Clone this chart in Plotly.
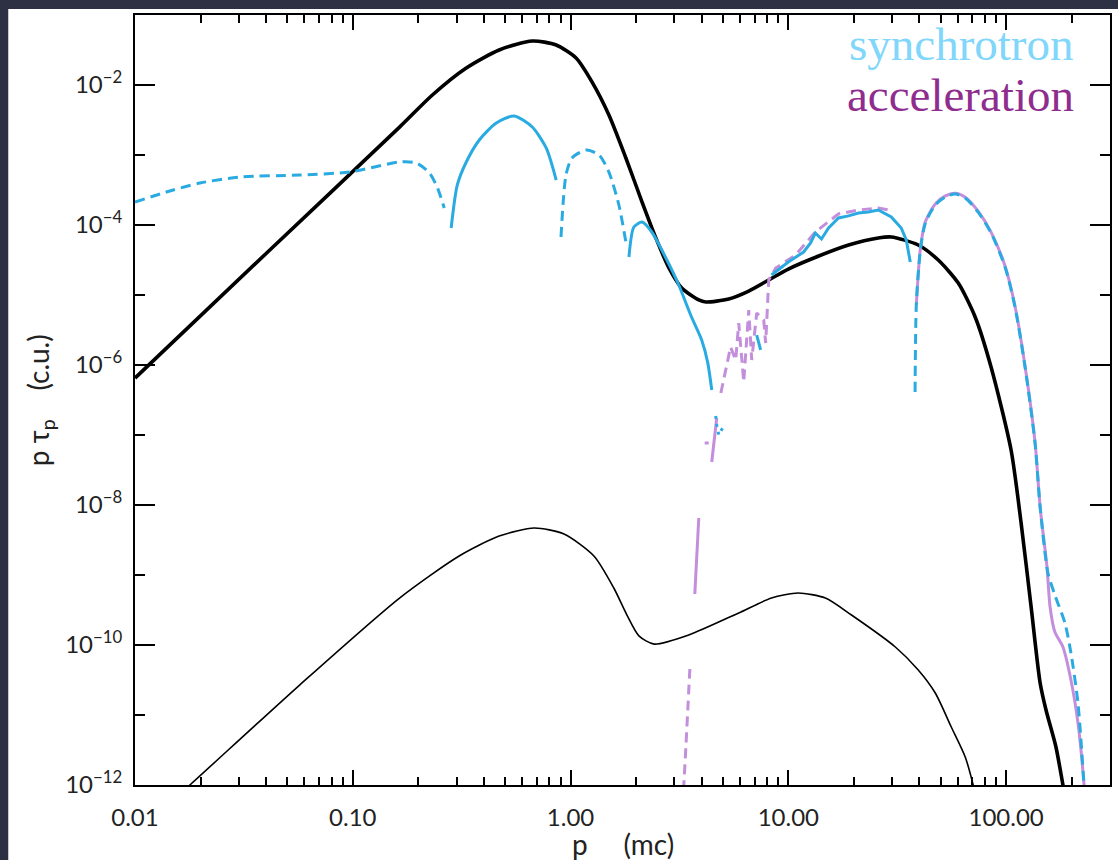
import plotly.graph_objects as go

# ---------------- data ----------------
# thick black curve
tot_p = [0.01, 0.0416, 0.164, 0.232, 0.332, 0.47, 0.667, 0.859, 1.06, 1.256, 1.5, 1.795,
         2.13, 2.466, 2.83, 3.24, 3.88, 4.18, 5.32, 6.58, 8.13, 10.0, 13.8, 18.9, 25.9, 29.7,
         39.5, 48.8, 60.3, 72.1, 85.3, 105.4, 117.2, 130.3, 143.3, 152.5, 169.4, 182.4, 190.0]
tot_f = [6.5e-7, 4.4e-5, 2.5e-3, 7.2e-3, 0.0175, 0.0316, 0.0425, 0.0373, 0.0243, 0.011,
         3.73e-3, 9.06e-4, 2.13e-4, 6.5e-5, 2.43e-5, 1.26e-5, 8.5e-6, 7.94e-6, 8.77e-6,
         1.14e-5, 1.64e-5, 2.35e-5, 3.61e-5, 5.18e-5, 6.52e-5, 6.74e-5, 5.18e-5, 3.16e-5,
         1.48e-5, 4.85e-6, 9.36e-7, 6.1e-8, 5.53e-9, 3.49e-10, 2.87e-11, 1.18e-11, 3.49e-12,
         1.0e-12, 5.0e-13]

# thin black curve
thin_p = [0.015, 0.01786, 0.057, 0.164, 0.308, 0.47, 0.681, 0.933, 1.28, 1.58, 1.815, 2.06,
          2.42, 3.49, 5.92, 8.37, 11.1, 14.8, 19.5, 31.0, 39.5, 47.3, 56.0, 64.9, 70.6, 74.0]
thin_f = [6.2e-13, 1.0e-12, 2.68e-11, 4.69e-10, 1.87e-9, 3.6e-9, 4.69e-9, 3.85e-9, 1.87e-9,
          6.52e-10, 2.68e-10, 1.35e-10, 1.03e-10, 1.39e-10, 2.87e-10, 4.69e-10, 5.53e-10,
          4.69e-10, 2.68e-10, 9.36e-11, 4.4e-11, 2.06e-11, 6.74e-12, 2.51e-12, 1.0e-12, 5.0e-13]

# synchrotron (blue) pieces
syn_d1_p = [0.01, 0.01446, 0.0199, 0.0303, 0.057, 0.0966, 0.164, 0.196, 0.225, 0.245, 0.263]
syn_d1_f = [2.13e-4, 3.06e-4, 3.98e-4, 4.85e-4, 5.18e-4, 5.71e-4, 7.94e-4, 7.69e-4, 5.53e-4,
            3.38e-4, 1.75e-4]
syn_s1_p = [0.283, 0.302, 0.332, 0.381, 0.456, 0.551, 0.667, 0.773, 0.859]
syn_s1_f = [9.06e-5, 3.73e-4, 7.94e-4, 1.64e-3, 2.87e-3, 3.61e-3, 2.51e-3, 1.26e-3, 4.39e-4]
syn_d2_p = [0.904, 0.953, 1.016, 1.178, 1.352, 1.5, 1.667, 1.795]
syn_d2_f = [6.74e-5, 5.18e-4, 9.06e-4, 1.18e-3, 1.0e-3, 5.71e-4, 1.93e-4, 5.71e-5]
syn_s2_p = [1.854, 1.954, 2.13, 2.36, 2.74, 3.14, 3.56, 4.0, 4.26, 4.45]
syn_s2_f = [3.49e-5, 9.36e-5, 1.1e-4, 7.94e-5, 3.38e-5, 1.39e-5, 5.18e-6, 2.28e-6, 1.1e-6, 4.4e-7]
syn_b_p = [4.64, 4.7, 4.8, 5.1]
syn_b_f = [1.87e-7, 1.3e-7, 1.0e-7, 1.44e-7]
syn_s3_p = [7.16, 7.46]
syn_s3_f = [2.68e-6, 1.64e-6]
syn_s4_p = [8.37, 10.0, 11.75, 12.65, 13.3, 14.2, 15.3, 17.0, 18.9, 21.0, 23.3, 25.9, 29.7,
            33.0, 34.8, 36.3]
syn_s4_f = [1.93e-5, 2.96e-5, 4.11e-5, 5.53e-5, 7.69e-5, 6.31e-5, 9.06e-5, 1.26e-4, 1.35e-4,
            1.48e-4, 1.53e-4, 1.64e-4, 1.3e-4, 9.06e-5, 6.1e-5, 2.96e-5]
syn_d3_p = [38.2, 38.7, 40.4, 42.6, 47.3, 52.6, 58.4, 64.9, 74.4, 85.3, 98.9, 109.9, 122.2,
            135.8, 143.3, 155.6, 167.5, 186.3, 198.5, 213.8, 227.6, 231.0]
syn_d3_f = [4.11e-7, 7.2e-6, 4.4e-5, 1.07e-4, 1.93e-4, 2.51e-4, 2.77e-4, 2.43e-4, 1.53e-4,
            7.69e-5, 2.51e-5, 6.74e-6, 9.36e-7, 7.69e-8, 9.36e-9, 1.07e-9, 5.18e-10, 2.06e-10,
            7.69e-11, 1.48e-11, 1.07e-12, 5.0e-13]

# acceleration (lilac) pieces
acc_d1_p = [3.25, 3.31, 3.53]
acc_d1_f = [5.0e-13, 1.0e-12, 4.54e-11]
acc_s1_p = [3.72, 3.88]
acc_s1_f = [5.35e-10, 6.52e-9]
acc_d2_p = [4.13, 4.31]
acc_d2_f = [7.69e-8, 7.69e-8]
acc_s2_p = [4.45, 4.69]
acc_s2_f = [4.11e-8, 1.75e-7]
acc_d3_p = [4.9, 5.21, 5.43, 5.73, 5.92, 6.24, 6.58, 6.79, 7.16, 7.71, 7.87, 8.13, 8.75,
            10.8, 13.3, 17.0, 21.0, 25.9, 28.8]
acc_d3_f = [3.98e-7, 9.36e-7, 1.81e-6, 1.18e-6, 3.98e-6, 5.71e-7, 6.1e-6, 1.18e-6, 5.53e-6,
            4.39e-6, 2.06e-6, 1.64e-5, 2.43e-5, 3.73e-5, 7.94e-5, 1.44e-4, 1.64e-4, 1.75e-4,
            1.64e-4]
acc_s3_p = [38.7, 40.4, 42.6, 47.3, 52.6, 58.4, 64.9, 74.4, 85.3, 98.9, 109.9, 122.2, 135.8,
            143.3, 154.1, 159.2, 167.5, 182.4, 198.5, 213.8, 227.6, 231.0]
acc_s3_f = [7.2e-6, 4.6e-5, 1.12e-4, 2.0e-4, 2.6e-4, 2.85e-4, 2.5e-4, 1.58e-4, 7.9e-5,
            2.6e-5, 6.9e-6, 9.6e-7, 7.9e-8, 9.36e-9, 1.3e-9, 3.49e-10, 1.53e-10, 9.36e-11,
            3.16e-11, 7.69e-12, 1.07e-12, 5.0e-13]

x_major = [0.01, 0.1, 1, 10, 100]
x_major_text = ["0.01", "0.10", "1.00", "10.00", "100.00"]
x_minor = [m * d for d in (0.01, 0.1, 1, 10) for m in range(2, 10)] + [200, 300]
y_major = [1e-12, 1e-10, 1e-8, 1e-6, 1e-4, 1e-2]
y_major_text = ["10<sup>−12</sup>", "10<sup>−10</sup>", "10<sup>−8</sup>",
                "10<sup>−6</sup>", "10<sup>−4</sup>", "10<sup>−2</sup>"]
y_minor = [1e-11, 1e-9, 1e-7, 1e-5, 1e-3]

BLUE = "#29abe2"
LILAC = "#c38fdc"
DASH = "10px,6px"

fig = go.Figure()


def add(px, fy, color, width, dash="solid", smooth=True):
    line = dict(color=color, width=width, dash=dash)
    if smooth:
        line.update(shape="spline", smoothing=0.7)
    fig.add_trace(go.Scatter(x=px, y=fy, mode="lines", line=line,
                             hoverinfo="skip", showlegend=False))


add(thin_p, thin_f, "black", 1.6)
add(tot_p, tot_f, "black", 3.6)
add(acc_d1_p, acc_d1_f, LILAC, 3, DASH)
add(acc_s1_p, acc_s1_f, LILAC, 3)
add(acc_d2_p, acc_d2_f, LILAC, 3, DASH)
add(acc_s2_p, acc_s2_f, LILAC, 3)
add(acc_d3_p, acc_d3_f, LILAC, 3, DASH, smooth=False)
add(acc_s3_p, acc_s3_f, LILAC, 3)
add(syn_d1_p, syn_d1_f, BLUE, 3, DASH)
add(syn_s1_p, syn_s1_f, BLUE, 3)
add(syn_d2_p, syn_d2_f, BLUE, 3, DASH)
add(syn_s2_p, syn_s2_f, BLUE, 3)
add(syn_b_p, syn_b_f, BLUE, 3, "3px,5px", smooth=False)
add(syn_s3_p, syn_s3_f, BLUE, 3)
add(syn_s4_p, syn_s4_f, BLUE, 3, smooth=False)
add(syn_d3_p, syn_d3_f, BLUE, 3, DASH)

TICKFONT = dict(family="Lato, 'DejaVu Sans', sans-serif", size=24, color="#222")

fig.update_xaxes(type="log", range=[-2, 2.4771], tickmode="array",
                 tickvals=x_major, ticktext=x_major_text, ticks="inside", ticklen=15,
                 tickwidth=2, tickcolor="black", showline=True, linecolor="black",
                 linewidth=2, mirror="ticks", showgrid=False, zeroline=False,
                 tickfont=TICKFONT, ticklabelstandoff=10,
                 minor=dict(tickmode="array", tickvals=x_minor, ticks="inside",
                            ticklen=8, tickwidth=2, tickcolor="black", showgrid=False))
fig.update_yaxes(type="log", range=[-12, -1], tickmode="array",
                 tickvals=y_major, ticktext=y_major_text, ticks="inside", ticklen=20,
                 tickwidth=2, tickcolor="black", showline=True, linecolor="black",
                 linewidth=2, mirror="ticks", showgrid=False, zeroline=False,
                 tickfont=TICKFONT, ticklabelstandoff=6,
                 minor=dict(tickmode="array", tickvals=y_minor, ticks="inside",
                            ticklen=10, tickwidth=2, tickcolor="black", showgrid=False))

fig.add_shape(type="rect", xref="paper", yref="paper", x0=-0.13, x1=1.02, y0=-0.11,
              y1=1.0078, fillcolor="white", line=dict(width=0), layer="below")

LABELFONT = dict(family="Lato, 'DejaVu Sans', sans-serif", size=28, color="#222")
NB = "\u00a0"
fig.add_annotation(text="p" + NB * 5 + "(mc)", xref="paper", yref="paper", x=0.5,
                   y=-0.076, showarrow=False, font=LABELFONT, xanchor="center",
                   yanchor="middle")
fig.add_annotation(text="p" + NB + "τ<sub>p</sub>" + NB * 4 + "(c.u.)", xref="paper",
                   yref="paper", x=-0.0972, y=0.5, textangle=-90, showarrow=False,
                   font=LABELFONT, xanchor="center", yanchor="middle")
fig.add_annotation(text="synchrotron", xref="paper", yref="paper", x=0.965, y=0.962,
                   showarrow=False, xanchor="right", yanchor="middle",
                   font=dict(family="Liberation Serif, Times New Roman, serif", size=47,
                             color="#80d6fb"))
fig.add_annotation(text="acceleration", xref="paper", yref="paper", x=0.965, y=0.8955,
                   showarrow=False, xanchor="right", yanchor="middle",
                   font=dict(family="Liberation Serif, Times New Roman, serif", size=47,
                             color="#8e2d8e"))

fig.update_layout(width=1118, height=860, margin=dict(l=135, r=6, t=15, b=75),
                  paper_bgcolor="#2e3143", plot_bgcolor="white")

fig.write_html("out.html")
